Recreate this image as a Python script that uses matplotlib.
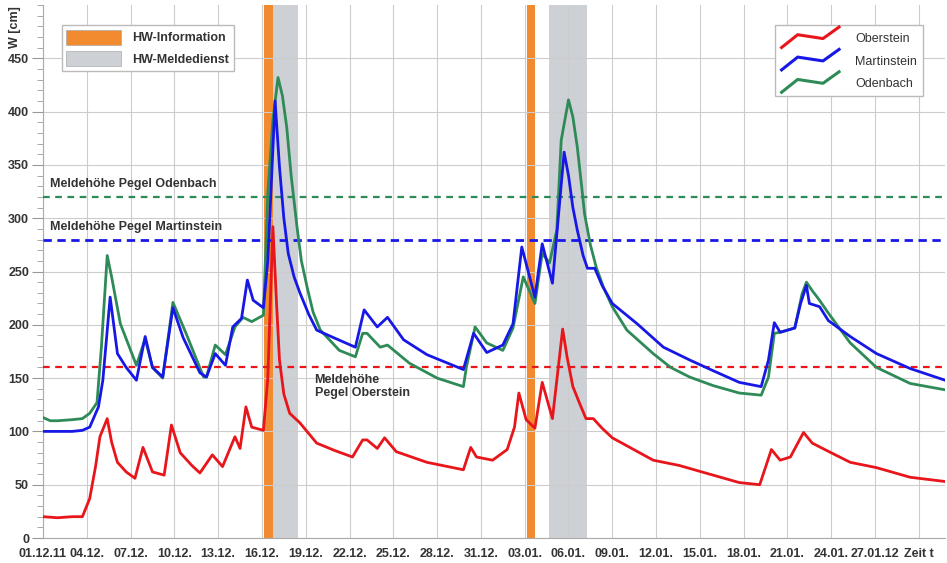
import numpy as np
import pandas as pd
import matplotlib
matplotlib.use("Agg")
import matplotlib.pyplot as plt
from matplotlib.patches import Patch
from matplotlib.lines import Line2D
from matplotlib.legend_handler import HandlerBase

plt.rcParams["font.family"] = ["Liberation Sans", "DejaVu Sans"]

start = pd.Timestamp("2011-12-01")

# Pegel Oberstein (day offset from 01.12.11, W in cm)
ober_d = [0, 1, 2, 2.7, 3.2, 3.6, 3.9, 4.4, 4.7, 5.1, 5.7, 6.3, 6.85, 7.5, 8.3, 8.8, 9.4, 10.2,
          10.75, 11.6, 12.3, 13.15, 13.5, 13.9, 14.3, 15.1, 15.4, 15.75, 16.0, 16.2, 16.5, 16.9,
          17.6, 18.75, 20.0, 21.2, 21.9, 22.2, 22.9, 23.4, 24.2, 26.3, 28.8, 29.3, 29.7, 30.8,
          31.8, 32.3, 32.6, 33.1, 33.7, 34.2, 34.9, 35.6, 35.9, 36.3, 36.8, 37.2, 37.7, 38.3,
          39.0, 41.8, 43.6, 45.9, 47.7, 49.1, 49.9, 50.5, 51.2, 52.1, 52.7, 53.7, 55.3, 57.1,
          59.4, 61.8]
ober_w = [20, 19, 20, 20, 37, 67, 95, 112, 90, 71, 62, 56, 85, 62, 59, 106, 80, 68,
          61, 78, 67, 95, 84, 123, 104, 101, 150, 292, 220, 167, 135, 117,
          108, 89, 82, 76, 92, 92, 84, 94, 81, 71, 64, 85, 76, 73,
          83, 104, 136, 111, 103, 146, 112, 196, 170, 142, 125, 112, 112, 103,
          94, 73, 68, 59, 52, 50, 83, 73, 76, 99, 89, 82, 71, 66,
          57, 53]

# Pegel Martinstein
mart_d = [0, 1, 2, 2.7, 3.2, 3.8, 4.1, 4.6, 5.1, 5.7, 6.4, 7.0, 7.5, 8.2, 8.9, 9.6, 10.75,
          11.2, 11.8, 12.5, 13.0, 13.6, 14.0, 14.4, 15.1, 15.4, 15.9, 16.2, 16.5, 16.8, 17.2,
          17.6, 18.2, 18.75, 19.9, 21.4, 22.0, 22.9, 23.6, 24.7, 26.3, 28.8, 29.5, 30.4, 31.5,
          32.2, 32.8, 33.7, 34.2, 34.9, 35.7, 36.0, 36.3, 36.6, 37.0, 37.3, 37.8, 38.3, 39.0,
          40.7, 42.5, 44.3, 45.9, 47.7, 49.2, 49.7, 50.1, 50.5, 51.5, 51.9, 52.3, 52.5, 53.2,
          53.8, 55.3, 57.1, 59.4, 61.8]
mart_w = [100, 100, 100, 101, 104, 123, 148, 226, 173, 160, 148, 189, 160, 151, 216, 188, 155,
          151, 173, 162, 198, 206, 242, 223, 216, 260, 410, 348, 300, 267, 245,
          230, 210, 195, 188, 179, 214, 198, 207, 186, 172, 158, 192, 174, 181,
          201, 273, 226, 276, 239, 362, 340, 310, 289, 265, 253, 253, 237, 220,
          201, 179, 167, 157, 146, 142, 167, 202, 193, 197, 220, 237, 220, 217,
          204, 189, 173, 159, 148]

# Pegel Odenbach
oden_d = [0, 0.5, 1, 2, 2.7, 3.2, 3.7, 4.0, 4.4, 4.7, 5.3, 6.4, 7.0, 7.5, 8.2, 8.9, 9.8, 11.0,
          11.2, 11.8, 12.5, 13.15, 13.7, 14.3, 15.1, 15.4, 15.75, 16.1, 16.4, 16.7, 17.0, 17.4,
          17.7, 18.1, 18.5, 19.0, 20.3, 21.4, 21.9, 22.2, 23.1, 23.6, 25.1, 27.0, 28.8, 29.0,
          29.6, 30.4, 31.5, 32.2, 32.9, 33.7, 34.2, 34.7, 35.2, 35.5, 36.0, 36.3, 36.6, 36.9,
          37.1, 37.5, 37.9, 38.4, 39.0, 40.0, 41.8, 43.0, 44.3, 45.9, 47.7, 49.2, 49.7, 50.1,
          50.5, 51.5, 52.0, 52.3, 52.7, 53.2, 53.8, 55.3, 57.1, 59.4, 61.8]
oden_w = [113, 110, 110, 111, 112, 117, 127, 179, 265, 245, 201, 162, 187, 160, 150, 221, 192, 151,
          151, 181, 172, 198, 207, 203, 209, 323, 392, 432, 415, 385, 340, 292,
          260, 235, 212, 195, 176, 170, 192, 192, 179, 181, 164, 150, 142, 160,
          198, 183, 176, 197, 245, 220, 267, 258, 289, 373, 411, 395, 367, 330,
          304, 275, 254, 235, 217, 195, 173, 160, 151, 143, 136, 134, 151, 192,
          193, 197, 229, 240, 232, 223, 211, 183, 160, 145, 139]

# Meldehöhen (cm)
meld_oden = 320
meld_mart = 280
meld_ober = 160

# HW-Information / HW-Meldedienst periods (day offsets)
info_periods = [(15.15, 15.75), (33.15, 33.7)]
melde_periods = [(15.75, 17.45), (34.65, 37.3)]

tick_days = list(range(0, 61, 3))
tick_labels = ["01.12.11", "04.12.", "07.12.", "10.12.", "13.12.", "16.12.", "19.12.",
               "22.12.", "25.12.", "28.12.", "31.12.", "03.01.", "06.01.", "09.01.",
               "12.01.", "15.01.", "18.01.", "21.01.", "24.01.", "27.01.12", "Zeit t"]


def to_dates(days):
    return start + pd.to_timedelta(np.array(days, dtype=float), unit="D")


c_red = "#e8161b"
c_blue = "#1818e6"
c_green = "#2e8b57"
c_orange = "#f28a30"
c_gray = "#cdd0d4"
txt = "#333333"

fig = plt.figure(figsize=(9.47, 5.63), dpi=100)
ax = fig.add_axes([0.0454, 0.0444, 0.9526, 0.9467])

for a, b in info_periods:
    ax.axvspan(to_dates([a])[0], to_dates([b])[0], color=c_orange, lw=0, zorder=1)
for a, b in melde_periods:
    ax.axvspan(to_dates([a])[0], to_dates([b])[0], color=c_gray, lw=0, zorder=1)

ax.axhline(meld_oden, color=c_green, ls=(0, (3, 2.5)), lw=1.6, zorder=3)
ax.axhline(meld_mart, color=c_blue, ls=(0, (3, 2)), lw=2.0, zorder=3)
ax.axhline(meld_ober, color=c_red, ls=(0, (3, 2.5)), lw=1.6, zorder=3)

ax.plot(to_dates(oden_d), oden_w, color=c_green, lw=2, zorder=4)
ax.plot(to_dates(mart_d), mart_w, color=c_blue, lw=2, zorder=5)
ax.plot(to_dates(ober_d), ober_w, color=c_red, lw=2, zorder=6)

ax.text(to_dates([0.5])[0], meld_oden + 6, "Meldehöhe Pegel Odenbach", fontsize=9,
        fontweight="bold", color=txt, va="bottom")
ax.text(to_dates([0.5])[0], meld_mart + 6, "Meldehöhe Pegel Martinstein", fontsize=9,
        fontweight="bold", color=txt, va="bottom")
ax.text(to_dates([18.6])[0], meld_ober - 6, "Meldehöhe\nPegel Oberstein", fontsize=9,
        fontweight="bold", color=txt, va="top", linespacing=1.15)

ax.set_ylim(0, 500)
ax.set_yticks(range(0, 451, 50))
ax.set_yticks(range(0, 501, 10), minor=True)
ax.set_xlim(to_dates([0])[0], to_dates([61.8])[0])
ax.set_xticks(to_dates(tick_days))
ax.set_xticklabels(tick_labels)
ax.tick_params(axis="x", length=0, pad=7, labelsize=9, labelcolor=txt)
ax.tick_params(axis="y", which="major", length=8, width=0.8, color="#999999", pad=2,
               labelsize=9, labelcolor=txt)
ax.tick_params(axis="y", which="minor", length=4, width=0.6, color="#999999")
for lbl in ax.get_xticklabels() + ax.get_yticklabels():
    lbl.set_fontweight("bold")
ax.grid(True, which="major", color="#cccccc", lw=0.8)
for s in ["top", "right"]:
    ax.spines[s].set_visible(False)
for s in ["left", "bottom"]:
    ax.spines[s].set_color("#aaaaaa")

fig.text(0.016, 0.99, "W [cm]", rotation=90, fontsize=9, fontweight="bold", color=txt,
         ha="center", va="top")


class ZigZag(HandlerBase):
    def create_artists(self, legend, orig, xd, yd, w, h, fontsize, trans):
        xs = np.array([0.0, 0.28, 0.72, 1.0]) * w - xd
        ys = np.array([-0.25, 0.75, 0.45, 1.35]) * h - yd
        ln = Line2D(xs, ys, color=orig.get_color(), lw=2.2, transform=trans)
        return [ln]


leg1 = ax.legend(handles=[Patch(facecolor=c_orange, edgecolor="#aaaaaa", lw=0.5),
                          Patch(facecolor=c_gray, edgecolor="#aaaaaa", lw=0.5)],
                 labels=["HW-Information", "HW-Meldedienst"],
                 loc="upper left", bbox_to_anchor=(0.021, 0.962), fancybox=False,
                 edgecolor="#bbbbbb", framealpha=1, fontsize=9, handlelength=4.4,
                 handleheight=1.5, borderpad=0.35, labelspacing=0.5, handletextpad=0.9,
                 borderaxespad=0)
for t in leg1.get_texts():
    t.set_fontweight("bold")
    t.set_color(txt)
leg1.set_zorder(10)
ax.add_artist(leg1)

leg2 = ax.legend(handles=[Line2D([], [], color=c_red), Line2D([], [], color=c_blue),
                          Line2D([], [], color=c_green)],
                 labels=["Oberstein", "Martinstein", "Odenbach"],
                 handler_map={Line2D: ZigZag()},
                 loc="upper right", bbox_to_anchor=(0.976, 0.962), fancybox=False,
                 edgecolor="#bbbbbb", framealpha=1, fontsize=9, handlelength=4.6,
                 handleheight=1.2, borderpad=0.5, labelspacing=0.7, handletextpad=1.3,
                 borderaxespad=0)
for t in leg2.get_texts():
    t.set_color(txt)
leg2.set_zorder(10)

fig.savefig("out.png", dpi=100)
